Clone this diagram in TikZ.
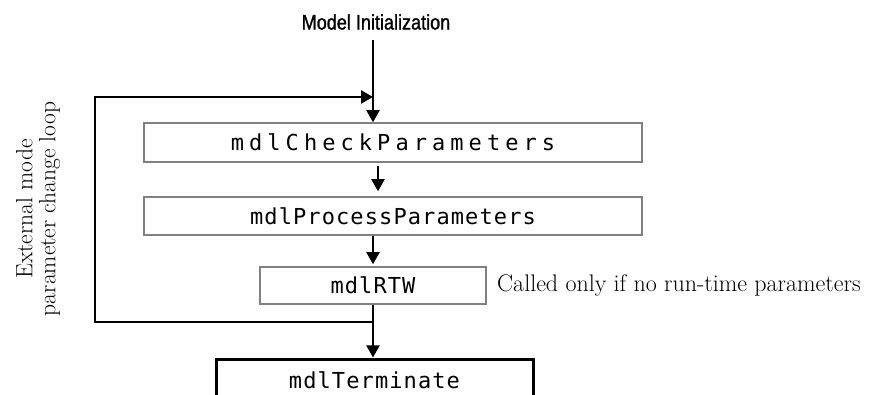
\documentclass[tikz,border=0pt]{standalone}
\usepackage{fontspec}
\usepackage{tikz}
\usetikzlibrary{arrows,arrows.meta}
\usetikzlibrary{calc}
\newfontfamily\callfont{DejaVu Sans Mono}
\newfontfamily\headfont{Liberation Sans}[FakeStretch=0.86,FakeBold=1.2]
\tikzstyle{callbox}=[draw=black!50, line width=1.5pt, inner sep=0pt, font=\callfont\fontsize{22}{25}\selectfont\addfontfeature{LetterSpace=5}]
\tikzstyle{endbox}=[draw=black, line width=3pt, inner sep=0pt, font=\callfont\fontsize{22}{25}\selectfont\addfontfeature{LetterSpace=5}]
\tikzstyle{flow}=[-{Triangle[length=12pt,width=13pt]}, line width=2pt]
\tikzstyle{loopline}=[line width=2.3pt]
\tikzstyle{serifnote}=[font=\fontsize{23.5}{23}\selectfont, inner sep=0pt]

\begin{document}
\begin{tikzpicture}[x=1pt,y=-1pt]
	\useasboundingbox (0,0) rectangle (871,395);
	\clip (0,0) rectangle (871,395);
	\node[font=\headfont\fontsize{21}{25}\selectfont, inner sep=0pt] (init) at (376,22) {Model Initialization};
	\node[callbox, minimum width=498pt, minimum height=39pt, font=\callfont\fontsize{22}{25}\selectfont\addfontfeature{LetterSpace=23}] (check) at (393,142.5) {mdlCheckParameters};
	\node[callbox, minimum width=498pt, minimum height=38pt] (proc) at (393,216) {mdlProcessParameters};
	\node[callbox, minimum width=226pt, minimum height=37pt] (rtw) at (373,285.5) {mdlRTW};
	\node[endbox, minimum width=317pt, minimum height=40pt] (term) at (374.5,380) {mdlTerminate};
	\node[serifnote, anchor=west, font=\fontsize{24}{24}\selectfont] (note) at (497,286) {Called only if no run-time parameters};
	\node[serifnote, rotate=90, align=center] (looplabel) at (38,209) {External mode\\parameter change loop};
	\coordinate (start) at (373,40);
	\coordinate (joinhigh) at (373,97);
	\coordinate (joinlow) at (373,322);
	% main flow
	\draw[flow] (start) -- (check.north -| start);
	\draw[flow, shorten <=3pt, shorten >=5pt] ([xshift=-15pt]check.south) -- ([xshift=-15pt]proc.north);
	\draw[flow, shorten >=2pt] (proc.south -| rtw) -- (rtw.north);
	\draw[flow, shorten >=1pt] (rtw.south) -- (rtw.south |- term.north);
	% parameter change loop
	\draw[loopline] (joinlow) -- ++(-278,0) -- ++(0,-225) -- ([xshift=-12pt]joinhigh);
	\draw[flow, line width=2.3pt] ([xshift=-14pt]joinhigh) -- (joinhigh);
\end{tikzpicture}
\end{document}
